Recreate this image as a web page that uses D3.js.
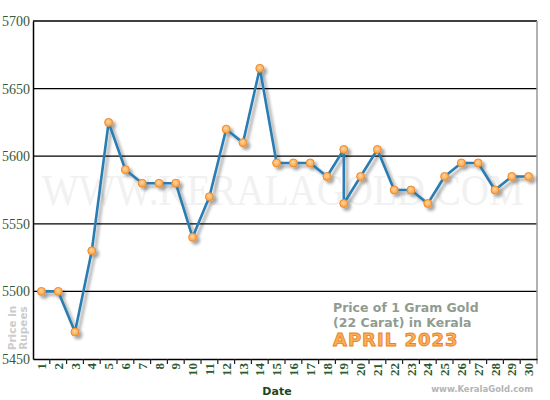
<!DOCTYPE html>
<html>
<head>
<meta charset="utf-8">
<script src="https://cdn.jsdelivr.net/npm/d3@7"></script>
<style>
  body { margin: 0; background: #fff; }
</style>
</head>
<body>
<div id="chart"></div>
<script>
// dates (19th has two price changes)
var dates = [1, 2, 3, 4, 5, 6, 7, 8, 9, 10, 11, 12, 13, 14, 15, 16, 17, 18, 19, 19, 20, 21, 22, 23, 24, 25, 26, 27, 28, 29, 30];
var prices = [5500, 5500, 5470, 5530, 5625, 5590, 5580, 5580, 5580, 5540, 5570, 5620, 5610, 5665, 5595, 5595, 5595, 5585, 5605, 5565, 5585, 5605, 5575, 5575, 5565, 5585, 5595, 5595, 5575, 5585, 5585];
var dayLabels = d3.range(1, 31).map(String);
var yTicks = [5450, 5500, 5550, 5600, 5650, 5700];

var width = 550, height = 400;
var margin = { top: 21, right: 13, bottom: 41, left: 33 };

var svg = d3.select("#chart")
    .append("svg")
    .attr("width", width)
    .attr("height", height);

var defs = svg.append("defs");
var shadow = defs.append("filter")
    .attr("id", "shadow")
    .attr("x", "-20%").attr("y", "-20%")
    .attr("width", "140%").attr("height", "140%");
shadow.append("feDropShadow")
    .attr("dx", 3).attr("dy", 3)
    .attr("stdDeviation", 1.6)
    .attr("flood-color", "#000")
    .attr("flood-opacity", 0.35);

var dotGrad = defs.append("radialGradient")
    .attr("id", "dotGrad")
    .attr("cx", "45%").attr("cy", "40%").attr("r", "60%");
dotGrad.append("stop").attr("offset", "0%").attr("stop-color", "#fdd5a0");
dotGrad.append("stop").attr("offset", "100%").attr("stop-color", "#f7a040");

var x = d3.scaleBand()
    .domain(dayLabels)
    .range([margin.left, width - margin.right]);

var y = d3.scaleLinear()
    .domain([5450, 5700])
    .range([height - margin.bottom, margin.top]);

// watermark (stretched a bit vertically)
svg.append("text")
    .attr("transform", "translate(42,205) scale(1,1.15)")
    .attr("font-family", "Liberation Serif, serif")
    .attr("font-size", 39)
    .attr("fill", "#f1f1f1")
    .text("WWW.KERALAGOLD.COM");

// gridlines
svg.append("g")
    .selectAll("line")
    .data(yTicks.slice(1))
    .enter().append("line")
    .attr("x1", margin.left)
    .attr("x2", width - margin.right)
    .attr("y1", d => y(d))
    .attr("y2", d => y(d))
    .attr("stroke", "#000")
    .attr("stroke-width", 1.3);

// right border
svg.append("line")
    .attr("x1", width - margin.right).attr("x2", width - margin.right)
    .attr("y1", margin.top).attr("y2", height - margin.bottom + 5)
    .attr("stroke", "#999")
    .attr("stroke-width", 1.5);

// y axis
var yAxis = svg.append("g")
    .attr("transform", "translate(" + margin.left + ",0)")
    .call(d3.axisLeft(y).tickValues(yTicks).tickSize(0).tickPadding(3).tickFormat(d3.format("d")));
yAxis.select(".domain").attr("stroke", "#000").attr("stroke-width", 1.5);
yAxis.selectAll("text")
    .attr("font-family", "Liberation Serif, serif")
    .attr("font-size", 14)
    .attr("fill", "#385a38");

// x axis, ticks at band edges
var xAxis = svg.append("g")
    .attr("transform", "translate(0," + (height - margin.bottom) + ")")
    .call(d3.axisBottom(x).tickSize(0).tickPadding(0));
xAxis.select(".domain").attr("stroke", "#000").attr("stroke-width", 1.5);
xAxis.selectAll("text")
    .attr("transform", "rotate(-90)")
    .attr("x", -4)
    .attr("y", 0)
    .attr("dy", "0.35em")
    .style("text-anchor", "end")
    .attr("font-family", "Liberation Serif, serif")
    .attr("font-weight", "bold")
    .attr("font-size", 13)
    .attr("fill", "#2f5a2f");
svg.append("g")
    .selectAll("line")
    .data(dayLabels.slice(1))
    .enter().append("line")
    .attr("x1", d => x(d))
    .attr("x2", d => x(d))
    .attr("y1", height - margin.bottom)
    .attr("y2", height - margin.bottom + 5)
    .attr("stroke", "#222")
    .attr("stroke-width", 1.2);

// axis titles
svg.append("text")
    .attr("x", 277)
    .attr("y", 395)
    .attr("text-anchor", "middle")
    .attr("font-family", "DejaVu Sans, sans-serif")
    .attr("font-weight", "bold")
    .attr("font-size", 11)
    .attr("fill", "#1f451f")
    .text("Date");

var yTitle = svg.append("text")
    .attr("transform", "translate(15.5,328) rotate(-90)")
    .attr("text-anchor", "middle")
    .attr("font-family", "DejaVu Sans, sans-serif")
    .attr("font-weight", "bold")
    .attr("font-size", 10.5)
    .attr("fill", "#cccccc");
yTitle.append("tspan").attr("x", 0).attr("y", 0).text("Price in");
yTitle.append("tspan").attr("x", 0).attr("y", 11.5).text("Rupees");

// caption
var cap = svg.append("g").attr("font-family", "DejaVu Sans, sans-serif").attr("font-weight", "bold");
cap.append("text")
    .attr("x", 333).attr("y", 312)
    .attr("font-size", 12.5)
    .attr("fill", "#919c91")
    .text("Price of 1 Gram Gold");
cap.append("text")
    .attr("x", 333).attr("y", 327)
    .attr("font-size", 12.5)
    .attr("fill", "#919c91")
    .text("(22 Carat) in Kerala");
cap.append("text")
    .attr("x", 333).attr("y", 346)
    .attr("font-size", 18)
    .attr("letter-spacing", 1)
    .attr("fill", "#fbb057")
    .attr("stroke", "#e8822a")
    .attr("stroke-width", 0.9)
    .text("APRIL 2023");

svg.append("text")
    .attr("x", 533).attr("y", 392)
    .attr("text-anchor", "end")
    .attr("font-family", "DejaVu Sans, sans-serif")
    .attr("font-weight", "bold")
    .attr("font-size", 8.5)
    .attr("fill", "#b4b4b4")
    .text("www.KeralaGold.com");

// line + markers
var points = dates.map((d, i) => ({ day: String(d), price: prices[i] }));
var cx = d => x(d.day) + x.bandwidth() / 2;

var line = d3.line()
    .x(cx)
    .y(d => y(d.price));

var series = svg.append("g").attr("filter", "url(#shadow)");
series.append("path")
    .datum(points)
    .attr("d", line)
    .attr("fill", "none")
    .attr("stroke", "#2a7db3")
    .attr("stroke-width", 2.6)
    .attr("stroke-linejoin", "round");

series.selectAll("circle")
    .data(points)
    .enter().append("circle")
    .attr("cx", cx)
    .attr("cy", d => y(d.price))
    .attr("r", 4)
    .attr("fill", "url(#dotGrad)")
    .attr("stroke", "#ee8a2c")
    .attr("stroke-width", 1);
</script>
</body>
</html>
